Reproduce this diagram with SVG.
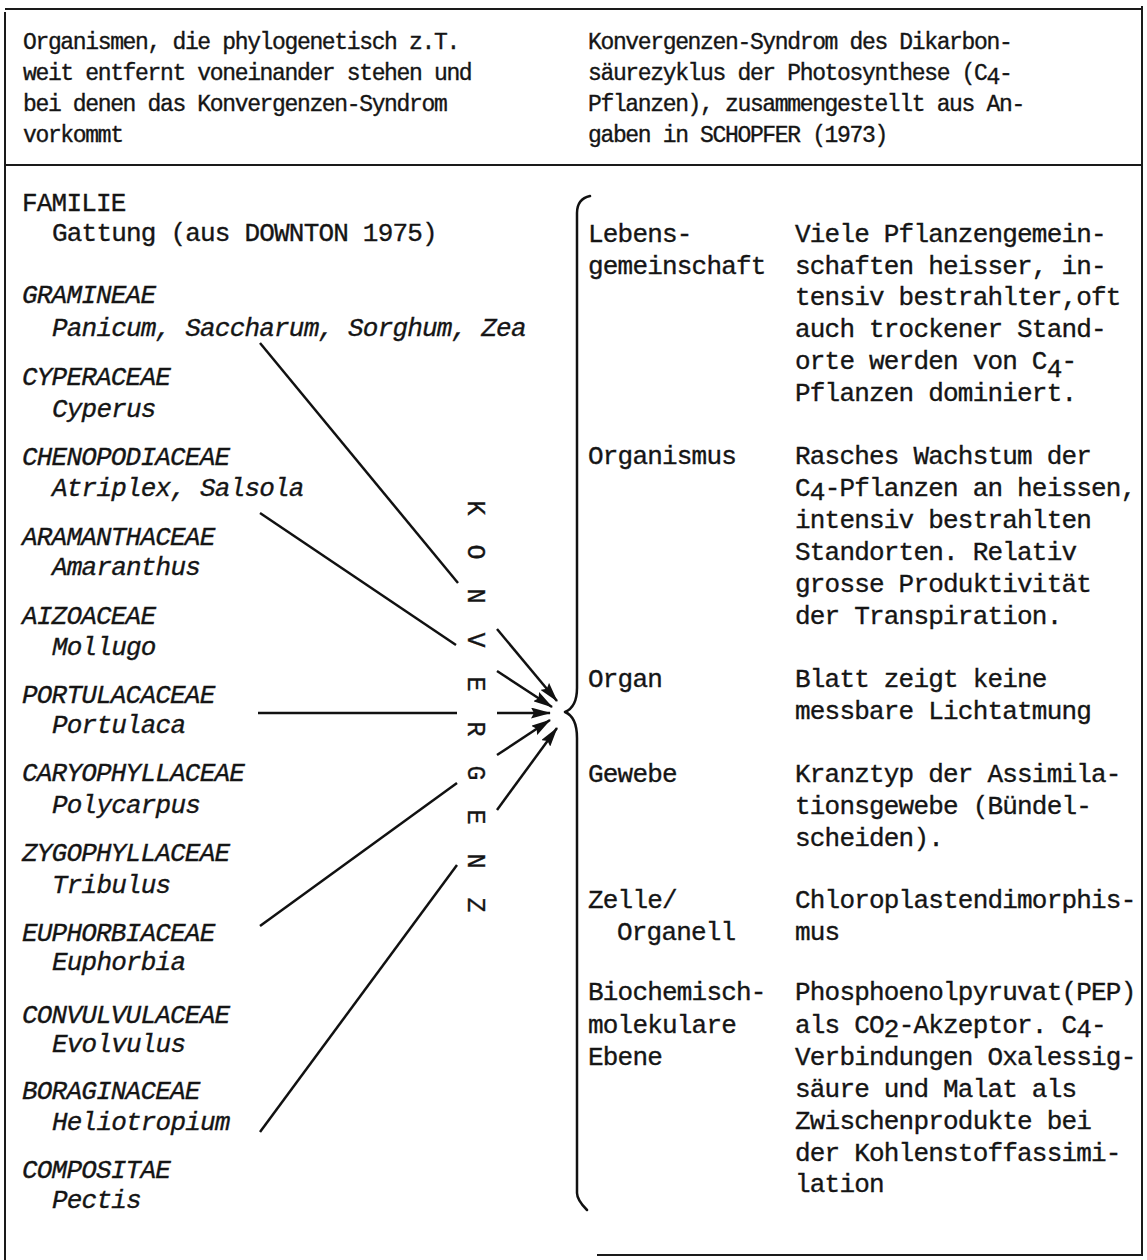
<svg xmlns="http://www.w3.org/2000/svg" width="1147" height="1260" viewBox="0 0 1147 1260">
<defs>
<style>
text{font-family:"Liberation Mono","DejaVu Sans Mono",monospace;fill:#151515;stroke:#151515;stroke-width:0.35px}
.h{font-size:23px;letter-spacing:-1.35px}
.b{font-size:26px;letter-spacing:-0.8px}
.i{font-style:italic}
.frame{stroke:#1a1a1a;stroke-width:2;fill:none}
.con{stroke:#111;stroke-width:2.5;fill:none}
.br{stroke:#111;stroke-width:2.5;fill:none;stroke-linecap:round;stroke-linejoin:round}
.kv{font-size:25px;text-anchor:middle;dominant-baseline:central}
</style>
<marker id="ah" viewBox="0 0 20 11" refX="19" refY="5.5" markerWidth="20" markerHeight="11" markerUnits="userSpaceOnUse" orient="auto">
<path d="M0,0 L20,5.5 L0,11 L3,5.5 z" fill="#111"/>
</marker>
</defs>
<rect width="1147" height="1260" fill="#fff"/>

<g id="table-frame">
<line class="frame" x1="5" y1="9" x2="1142" y2="9"/>
<line class="frame" x1="5" y1="12" x2="5" y2="1260"/>
<line class="frame" x1="1142" y1="6" x2="1142" y2="1256"/>
<line class="frame" x1="5" y1="165" x2="1142" y2="165"/>
<line class="frame" x1="597" y1="1255" x2="1142" y2="1255"/>
</g>

<g id="header-left">
<text class="h" x="23" y="49">Organismen, die phylogenetisch z.T.</text>
<text class="h" x="23" y="80">weit entfernt voneinander stehen und</text>
<text class="h" x="23" y="111">bei denen das Konvergenzen-Syndrom</text>
<text class="h" x="23" y="142">vorkommt</text>
</g>
<g id="header-right">
<text class="h" x="588" y="49">Konvergenzen-Syndrom des Dikarbon-</text>
<text class="h" x="588" y="80">säurezyklus der Photosynthese (C<tspan dy="4">4</tspan><tspan dy="-4">-</tspan></text>
<text class="h" x="588" y="111">Pflanzen), zusammengestellt aus An-</text>
<text class="h" x="588" y="142">gaben in SCHOPFER (1973)</text>
</g>

<g id="legend">
<text class="b" x="22" y="211">FAMILIE</text>
<text class="b" x="52" y="241">Gattung (aus DOWNTON 1975)</text>
</g>
<g id="gramineae"><text class="b i" x="22" y="303">GRAMINEAE</text><text class="b i" x="52" y="336">Panicum, Saccharum, Sorghum, Zea</text></g>
<g id="cyperaceae"><text class="b i" x="22" y="385">CYPERACEAE</text><text class="b i" x="52" y="417">Cyperus</text></g>
<g id="chenopodiaceae"><text class="b i" x="22" y="465">CHENOPODIACEAE</text><text class="b i" x="52" y="496">Atriplex, Salsola</text></g>
<g id="aramanthaceae"><text class="b i" x="22" y="545">ARAMANTHACEAE</text><text class="b i" x="52" y="575">Amaranthus</text></g>
<g id="aizoaceae"><text class="b i" x="22" y="624">AIZOACEAE</text><text class="b i" x="52" y="655">Mollugo</text></g>
<g id="portulacaceae"><text class="b i" x="22" y="703">PORTULACACEAE</text><text class="b i" x="52" y="733">Portulaca</text></g>
<g id="caryophyllaceae"><text class="b i" x="22" y="781">CARYOPHYLLACEAE</text><text class="b i" x="52" y="813">Polycarpus</text></g>
<g id="zygophyllaceae"><text class="b i" x="22" y="861">ZYGOPHYLLACEAE</text><text class="b i" x="52" y="893">Tribulus</text></g>
<g id="euphorbiaceae"><text class="b i" x="22" y="941">EUPHORBIACEAE</text><text class="b i" x="52" y="970">Euphorbia</text></g>
<g id="convulvulaceae"><text class="b i" x="22" y="1023">CONVULVULACEAE</text><text class="b i" x="52" y="1052">Evolvulus</text></g>
<g id="boraginaceae"><text class="b i" x="22" y="1099">BORAGINACEAE</text><text class="b i" x="52" y="1130">Heliotropium</text></g>
<g id="compositae"><text class="b i" x="22" y="1178">COMPOSITAE</text><text class="b i" x="52" y="1208">Pectis</text></g>

<g id="konvergenz">
<text class="kv" transform="translate(474,508) rotate(90)">K</text>
<text class="kv" transform="translate(474,552) rotate(90)">O</text>
<text class="kv" transform="translate(474,596) rotate(90)">N</text>
<text class="kv" transform="translate(474,640) rotate(90)">V</text>
<text class="kv" transform="translate(474,684) rotate(90)">E</text>
<text class="kv" transform="translate(474,729) rotate(90)">R</text>
<text class="kv" transform="translate(474,773) rotate(90)">G</text>
<text class="kv" transform="translate(474,817) rotate(90)">E</text>
<text class="kv" transform="translate(474,861) rotate(90)">N</text>
<text class="kv" transform="translate(474,905) rotate(90)">Z</text>
</g>

<g id="connectors">
<line class="con" x1="260" y1="343" x2="458" y2="583"/>
<line class="con" x1="497" y1="629" x2="557" y2="701" marker-end="url(#ah)"/>
<line class="con" x1="260" y1="513" x2="456" y2="645"/>
<line class="con" x1="497" y1="671" x2="552" y2="707" marker-end="url(#ah)"/>
<line class="con" x1="258" y1="713" x2="457" y2="713"/>
<line class="con" x1="497" y1="713" x2="550" y2="713" marker-end="url(#ah)"/>
<line class="con" x1="260" y1="926" x2="457" y2="783"/>
<line class="con" x1="497" y1="755" x2="550" y2="720" marker-end="url(#ah)"/>
<line class="con" x1="260" y1="1132" x2="457" y2="865"/>
<line class="con" x1="497" y1="810" x2="557" y2="728" marker-end="url(#ah)"/>
</g>

<g id="brace">
<path class="br" d="M590,196 Q577,199 577,213 L577,688 Q577,707 565,712 Q577,717 577,738 L577,1193 Q577,1200 587,1210"/>
</g>

<g id="lebensgemeinschaft">
<text class="b" x="588" y="242">Lebens-</text>
<text class="b" x="588" y="274">gemeinschaft</text>
<text class="b" x="795" y="242">Viele Pflanzengemein-</text>
<text class="b" x="795" y="274">schaften heisser, in-</text>
<text class="b" x="795" y="305">tensiv bestrahlter,oft</text>
<text class="b" x="795" y="337">auch trockener Stand-</text>
<text class="b" x="795" y="369">orte werden von C<tspan dy="8">4</tspan><tspan dy="-8">-</tspan></text>
<text class="b" x="795" y="401">Pflanzen dominiert.</text>
</g>
<g id="organismus">
<text class="b" x="588" y="464">Organismus</text>
<text class="b" x="795" y="464">Rasches Wachstum der</text>
<text class="b" x="795" y="496">C<tspan dy="4">4</tspan><tspan dy="-4">-Pflanzen an heissen,</tspan></text>
<text class="b" x="795" y="528">intensiv bestrahlten</text>
<text class="b" x="795" y="560">Standorten. Relativ</text>
<text class="b" x="795" y="592">grosse Produktivität</text>
<text class="b" x="795" y="624">der Transpiration.</text>
</g>
<g id="organ">
<text class="b" x="588" y="687">Organ</text>
<text class="b" x="795" y="687">Blatt zeigt keine</text>
<text class="b" x="795" y="719">messbare Lichtatmung</text>
</g>
<g id="gewebe">
<text class="b" x="588" y="782">Gewebe</text>
<text class="b" x="795" y="782">Kranztyp der Assimila-</text>
<text class="b" x="795" y="814">tionsgewebe (Bündel-</text>
<text class="b" x="795" y="846">scheiden).</text>
</g>
<g id="zelle">
<text class="b" x="588" y="908">Zelle/</text>
<text class="b" x="617" y="940">Organell</text>
<text class="b" x="795" y="908">Chloroplastendimorphis-</text>
<text class="b" x="795" y="940">mus</text>
</g>
<g id="biochemisch">
<text class="b" x="588" y="1000">Biochemisch-</text>
<text class="b" x="588" y="1033">molekulare</text>
<text class="b" x="588" y="1065">Ebene</text>
<text class="b" x="795" y="1000">Phosphoenolpyruvat(PEP)</text>
<text class="b" x="795" y="1033">als CO<tspan dy="4">2</tspan><tspan dy="-4">-Akzeptor. C</tspan><tspan dy="4">4</tspan><tspan dy="-4">-</tspan></text>
<text class="b" x="795" y="1065">Verbindungen Oxalessig-</text>
<text class="b" x="795" y="1097">säure und Malat als</text>
<text class="b" x="795" y="1129">Zwischenprodukte bei</text>
<text class="b" x="795" y="1161">der Kohlenstoffassimi-</text>
<text class="b" x="795" y="1192">lation</text>
</g>
</svg>
